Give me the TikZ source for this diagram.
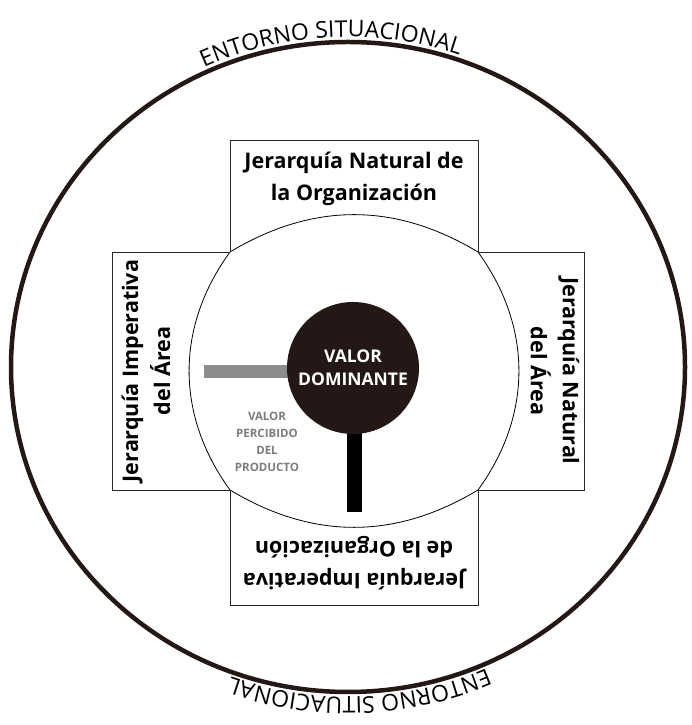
\documentclass[tikz,border=0pt]{standalone}
\usepackage{fontspec}
\setmainfont{Open Sans}
\usetikzlibrary{decorations.text,calc}

\definecolor{dark}{RGB}{35,24,21}
\definecolor{barGray}{RGB}{140,140,140}
\definecolor{textGray}{RGB}{125,125,125}
\newcommand{\entornofont}{\fontsize{23}{23}\selectfont}

\tikzset{
  box/.style={draw=black!85, line width=0.9pt},
  boxtext/.style={align=center, font=\fontsize{21.5}{32}\selectfont\bfseries},
  valorcirc/.style={circle, fill=dark, minimum size=132pt, inner sep=0pt,
    text=white, align=center, font=\fontsize{17.5}{23}\selectfont\bfseries},
  perc/.style={align=center, text=textGray, font=\fontsize{11.5}{17}\selectfont\bfseries},
}

\begin{document}
\begin{tikzpicture}[x=1pt,y=1pt]
    \useasboundingbox (0,0) rectangle (691,725);

    % entorno
    \coordinate (c) at (348,358);
    \draw[line width=4.5pt, dark] (c) ellipse [x radius=337, y radius=325];
    \path[decorate, decoration={text along path, text align=center,
        text={|\entornofont|ENTORNO SITUACIONAL}}]
        ($(c)+(143:342 and 330)$) arc [start angle=143, end angle=43, x radius=342, y radius=330];
    \path[decorate, decoration={text along path, text align=center,
        text={|\entornofont|ENTORNO SITUACIONAL}}]
        ($(c)+(-38:342 and 330)$) arc [start angle=-38, end angle=-138, x radius=342, y radius=330];

    % corners of the inner shape
    \coordinate (tl) at (230,473);
    \coordinate (tr) at (478,473);
    \coordinate (bl) at (230,235);
    \coordinate (br) at (478,235);

    \draw[line width=0.8pt] (tl) to[bend left=31] (tr) to[bend left=36] (br)
        to[bend left=31] (bl) to[bend left=36] (tl);

    % boxes
    \draw[box] (tl) -- ++(0,112) -| (tr);
    \draw[box] (tl) -- ++(-118,0) |- (bl);
    \draw[box] (tr) -- ++(106,0) |- (br);
    \draw[box] (bl) -- ++(0,-115) -| (br);

    \node[boxtext] (top) at (354,546) {Jerarquía Natural de\\la Organización};
    \node[boxtext, rotate=90] (left) at (146,354) {Jerarquía Imperativa\\del Área};
    \node[boxtext, rotate=-90] (right) at (555,354) {Jerarquía Natural\\del Área};
    \node[boxtext, rotate=180] (bottom) at (354,162) {Jerarquía Imperativa\\de la Organización};

    % valor dominante
    \coordinate (vd) at (353,357);
    \coordinate (grayend) at (204,353.5);
    \coordinate (blackend) at (354.5,213);
    \draw[line width=13pt, barGray] (grayend) -- (vd |- grayend);
    \draw[line width=15pt, black] (blackend) -- (blackend |- vd);
    \node[valorcirc] (valor) at (vd) {VALOR\\DOMINANTE};

    \node[perc] (percibido) at (267,283.5) {VALOR\\PERCIBIDO\\DEL\\PRODUCTO};

\end{tikzpicture}
\end{document}
